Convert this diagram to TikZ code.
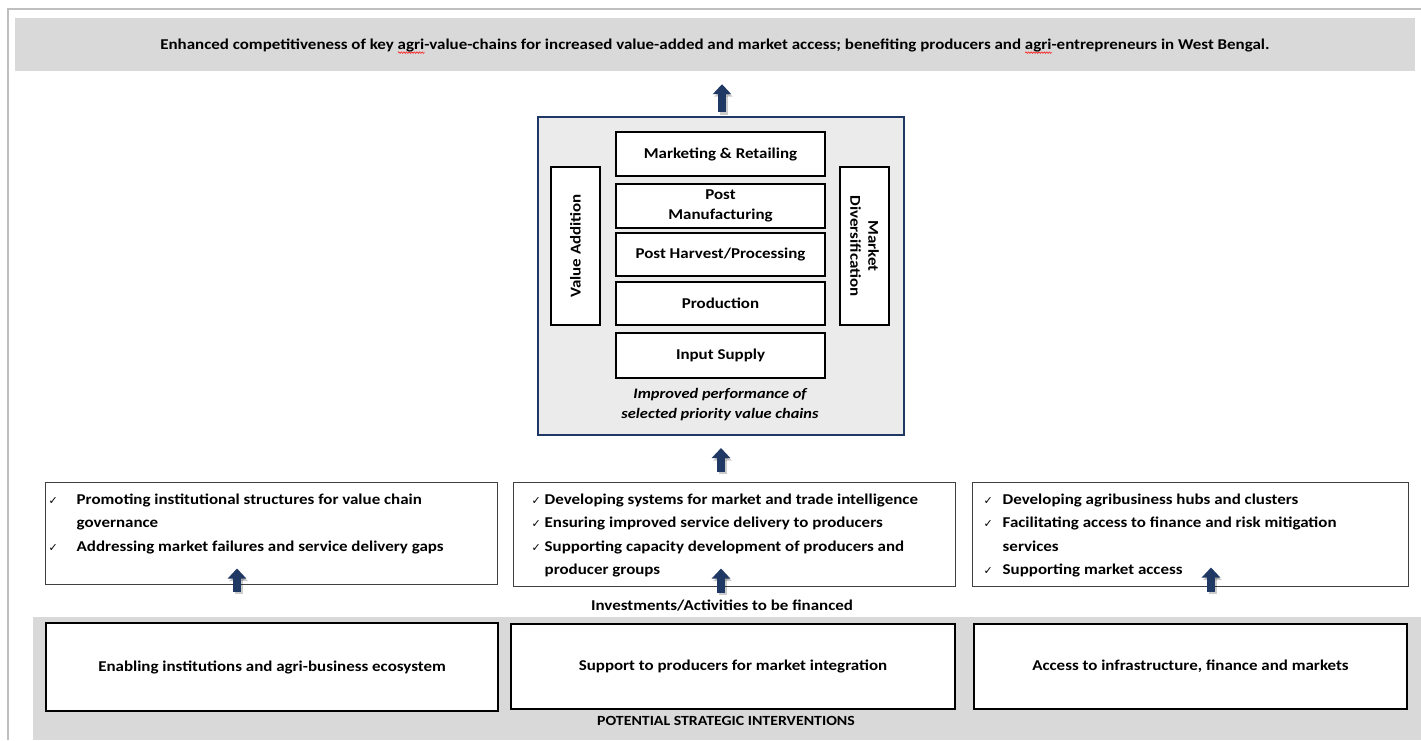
\documentclass[tikz,border=0pt]{standalone}
\usepackage{fontspec}
\setmainfont{Carlito}[FakeStretch=1.13]
\newfontfamily\symfont{DejaVu Sans}
\usetikzlibrary{arrows.meta,calc,decorations.pathmorphing}
\definecolor{navy}{HTML}{1F3864}
\definecolor{bandgray}{HTML}{D9D9D9}
\definecolor{boxgray}{HTML}{EBEBEB}
\definecolor{framegray}{HTML}{BFBFBF}
\newlength\sqwlen
\newcommand\sqw[1]{\settowidth\sqwlen{#1}\rlap{\tikz[baseline=0pt,x=1pt,y=1pt]{\draw[red, line width=0.5pt, decorate, decoration={snake, amplitude=0.8pt, segment length=2.6pt}] (0,-2.8) -- (\sqwlen,-2.8);}}#1}
\newcommand\ck{{\symfont\fontsize{11}{11}\selectfont ✓}}
\begin{document}
\begin{tikzpicture}[x=1pt,y=-1pt,
 every node/.style={font=\fontsize{15}{18}\selectfont\bfseries, inner sep=0pt},
 stagebox/.style={draw=black, line width=2.2pt, fill=white, minimum width=209pt, minimum height=43pt, align=center},
 sidebox/.style={draw=black, line width=2.2pt, fill=white, minimum width=158pt, minimum height=49pt, align=center},
 listbox/.style={draw=black!75, line width=1pt, fill=white},
 basebox/.style={draw=black, line width=2.6pt, fill=white},
 blockarr/.style={line width=8pt, draw=navy, -{Triangle[width=18pt,length=10pt]}},
 arrshadow/.style={line width=8pt, draw=black, opacity=0.2, -{Triangle[width=18pt,length=10pt]}, transform canvas={shift={(1.5pt,-2.5pt)}}},
 listtxt/.style={anchor=north west, font=\fontsize{15}{23.3}\selectfont\bfseries},
]
\useasboundingbox (0,0) rectangle (1421,740);
\fill[white] (0,0) rectangle (1421,740);
% frame
\draw[framegray, line width=2pt] (8,740) -- (8,9) -- (1421,9);
% top banner
\node[fill=bandgray, minimum width=1400pt, minimum height=53pt] (banner) at (715,44.5) {};
\node[anchor=base] (bannertxt) at ($(banner.north)+(0,32)$) {Enhanced competitiveness of key \sqw{agri}-value-chains for increased value-added and market access; benefiting producers and \sqw{agri}-entrepreneurs in West Bengal.};
% central box
\node[draw=navy, line width=2pt, fill=boxgray, minimum width=366pt, minimum height=318pt] (vc) at (721,276) {};
\node[stagebox, minimum height=44pt] (mkt) at (720.5,154) {Marketing \& Retailing};
\node[stagebox, minimum height=44pt, font=\fontsize{15}{20}\selectfont\bfseries] (pman) at (720.5,206) {Post\\Manufacturing};
\node[stagebox] (phar) at (720.5,254.5) {Post Harvest/Processing};
\node[stagebox] (prod) at (720.5,303.5) {Production};
\node[stagebox, minimum height=45pt] (inp) at (720.5,355.5) {Input Supply};
\node[sidebox, rotate=90] (vadd) at (575.5,246) {Value Addition};
\node[sidebox, rotate=-90, font=\fontsize{15}{18}\selectfont\bfseries] (mdiv) at (864.5,246) {Market\\Diversification};
\node[font=\fontsize{14.5}{20}\selectfont\bfseries\itshape, align=center] (perf) at (720,405) {Improved performance of\\selected priority value chains};
% list boxes
\node[listbox, minimum width=452pt, minimum height=102pt] (cb1) at (271,533) {};
\node[listbox, minimum width=442pt, minimum height=104pt] (cb2) at (734,534) {};
\node[listbox, minimum width=436pt, minimum height=104pt] (cb3) at (1190,534) {};
\node[listtxt] (t1) at ($(cb1.north west)+(4,6.5)$) {\begin{tabular}{@{}p{28pt}@{}l@{}}\ck & Promoting institutional structures for value chain\\ & governance\\ \ck & Addressing market failures and service delivery gaps\end{tabular}};
\node[listtxt] (t2) at ($(cb2.north west)+(19,6.5)$) {\begin{tabular}{@{}p{13pt}@{}l@{}}\ck & Developing systems for market and trade intelligence\\ \ck & Ensuring improved service delivery to producers\\ \ck & Supporting capacity development of producers and\\ & producer groups\end{tabular}};
\node[listtxt] (t3) at ($(cb3.north west)+(12,6.5)$) {\begin{tabular}{@{}p{19pt}@{}l@{}}\ck & Developing agribusiness hubs and clusters\\ \ck & Facilitating access to finance and risk mitigation\\ & services\\ \ck & Supporting market access\end{tabular}};
\node[anchor=base] (inv) at (722,610) {Investments/Activities to be financed};
% bottom band
\node[fill=bandgray, minimum width=1388pt, minimum height=123pt, anchor=north west] (band) at (33,617) {};
\node[basebox, minimum width=452pt, minimum height=88pt] (b1) at (272,667) {Enabling institutions and agri-business ecosystem};
\node[basebox, minimum width=444pt, minimum height=85pt] (b2) at (733,666.5) {Support to producers for market integration};
\node[basebox, minimum width=433pt, minimum height=85pt] (b3) at (1190.5,666.5) {Access to infrastructure, finance and markets};
\node[anchor=base, font=\fontsize{14}{16}\selectfont\bfseries] (psi) at (726,725) {POTENTIAL STRATEGIC INTERVENTIONS};
% arrow end points
\coordinate (a0s) at ($(vc.north)+(1,-4)$);
\coordinate (a0e) at ($(vc.north |- banner.south)+(1,13)$);
\coordinate (a1s) at ($(vc.south |- cb2.north)+(0,-10)$);
\coordinate (a1e) at ($(vc.south)+(0,12)$);
\coordinate (a2s) at ($(b1.north)+(-35,-30)$);
\coordinate (a2e) at ($(b1.north |- cb1.south)+(-35,-16)$);
\coordinate (a3s) at ($(b2.north)+(-12,-30)$);
\coordinate (a3e) at ($(b2.north |- cb2.south)+(-12,-18)$);
\coordinate (a4s) at ($(b3.north)+(20.5,-31)$);
\coordinate (a4e) at ($(b3.north |- cb3.south)+(20.5,-19)$);
\foreach \i in {0,...,4}{
  \draw[arrshadow] (a\i s) -- (a\i e);
  \draw[blockarr] (a\i s) -- (a\i e);
}
\end{tikzpicture}
\end{document}
